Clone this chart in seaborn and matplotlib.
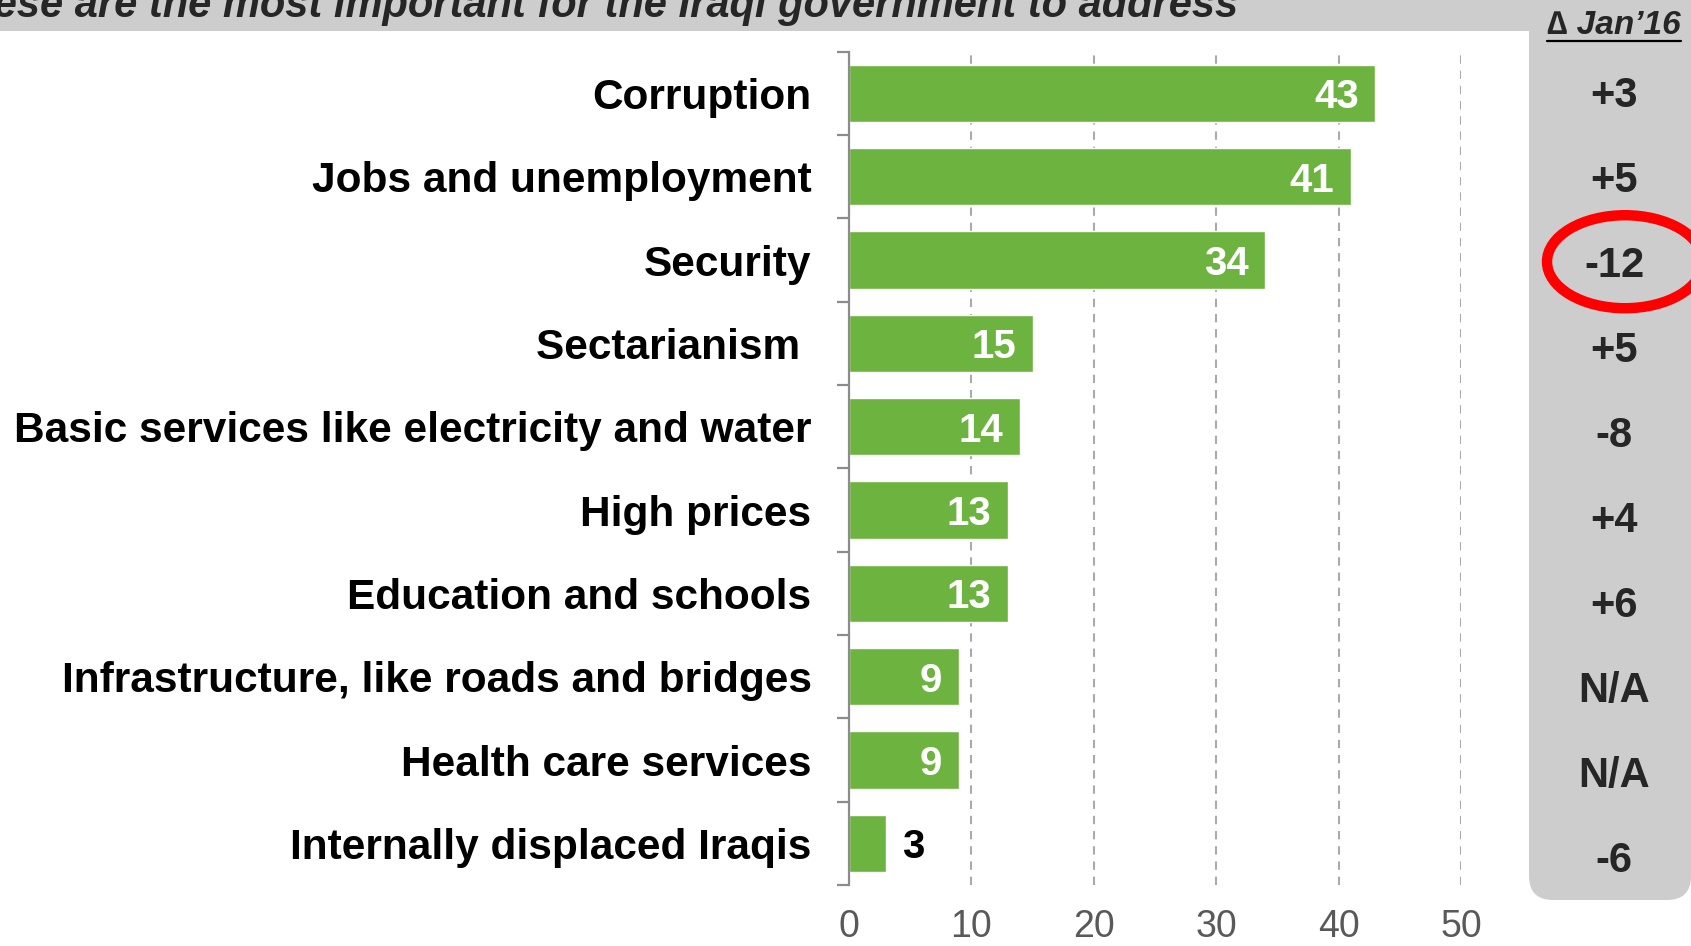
import numpy as np
import pandas as pd
import matplotlib
matplotlib.use("Agg")
import matplotlib.pyplot as plt
from matplotlib import font_manager
from matplotlib.patches import FancyBboxPatch, Ellipse, Rectangle
import seaborn as sns

# data
issues = ["Corruption", "Jobs and unemployment", "Security", "Sectarianism ",
          "Basic services like electricity and water", "High prices",
          "Education and schools", "Infrastructure, like roads and bridges",
          "Health care services", "Internally displaced Iraqis"]
pct = [43, 41, 34, 15, 14, 13, 13, 9, 9, 3]
change = ["+3", "+5", "-12", "+5", "-8", "+4", "+6", "N/A", "N/A", "-6"]
x_ticks = [0, 10, 20, 30, 40, 50]

title = "These are the most important for the Iraqi government to address"
change_header = "\u2206 Jan\u201916"
circled = "-12"

GREEN = "#6db33f"
GRAY_BG = "#cdcdcd"

sns.set_style("white")
installed = {f.name for f in font_manager.fontManager.ttflist}
narrow = "Liberation Sans Narrow" if "Liberation Sans Narrow" in installed else "Liberation Sans"
title_size = 35 if narrow == "Liberation Sans Narrow" else 30
plt.rcParams["font.family"] = ["Liberation Sans", "DejaVu Sans"]

W, H = 1691, 946
fig = plt.figure(figsize=(W / 100, H / 100), dpi=100)

# background layer, pixel coordinates
bg = fig.add_axes([0, 0, 1, 1], zorder=0)
bg.set_xlim(0, W)
bg.set_ylim(H, 0)
bg.axis("off")
bg.add_patch(Rectangle((0, -10), 1560, 41, color=GRAY_BG, lw=0))
bg.add_patch(FancyBboxPatch((1529, -60), W - 1529, 960,
                            boxstyle="round,pad=0,rounding_size=24",
                            fc=GRAY_BG, ec="none"))
bg.text(1238, 17, title, ha="right", va="baseline", fontsize=title_size,
        fontweight="bold", style="italic", family=[narrow, "DejaVu Sans"])
hdr = bg.text(1614, 25, change_header, ha="center", va="center", fontsize=24,
              fontweight="bold", style="italic")

# main bar chart
df = pd.DataFrame({"issue": issues, "pct": pct})
ax = fig.add_axes([849 / W, 1 - 885 / H, (1461 - 849) / W, (885 - 51.7) / H], zorder=1)
ax.patch.set_alpha(0)
sns.barplot(data=df, x="pct", y="issue", orient="h", color=GREEN,
            saturation=1, width=0.69, ax=ax)
ax.set_xlim(0, 50)
ax.set_xticks(x_ticks)
ax.set_xlabel("")
ax.set_ylabel("")
for s in ["top", "right", "bottom"]:
    ax.spines[s].set_visible(False)
ax.spines["left"].set_color("#8c8c8c")
ax.spines["left"].set_linewidth(1.6)

ax.set_yticks(np.arange(-0.5, len(issues)), minor=True)
ax.tick_params(axis="y", which="major", left=True, length=0, pad=27,
               labelsize=30.5, labelcolor="black")
ax.tick_params(axis="y", which="minor", left=True, length=8.7, width=1.6,
               color="#8c8c8c", direction="out")
ax.tick_params(axis="x", bottom=False, length=0, pad=17.5, labelsize=27, labelcolor="#595959")
for lbl in ax.get_yticklabels():
    lbl.set_fontweight("bold")
    lbl.set_verticalalignment("center_baseline")

ax.set_axisbelow(True)
ax.grid(axis="x", linestyle=(0, (4, 3.3)), color="#aaaaaa", linewidth=1.5)
ax.grid(axis="y", visible=False)

for bar, v in zip(ax.patches, pct):
    yc = bar.get_y() + bar.get_height() / 2
    if v >= 5:
        ax.annotate(str(v), (v, yc), xytext=(-12, 0), textcoords="offset points",
                    ha="right", va="center_baseline", color="white",
                    fontsize=29, fontweight="bold")
    else:
        ax.annotate(str(v), (v, yc), xytext=(12, 0), textcoords="offset points",
                    ha="left", va="center_baseline", color="black",
                    fontsize=29, fontweight="bold")

# change column
axp = fig.add_axes([1529 / W, 1 - 900 / H, (W - 1529) / W, 900 / H], zorder=2)
axp.axis("off")
axp.set_xlim(0, 1)
axp.set_ylim(9.509, -1.079)
for i, c in enumerate(change):
    axp.text(0.525, i, c, ha="center", va="center_baseline", fontsize=30, fontweight="bold")

# red ring around the circled change (pixel layer)
i_c = change.index(circled)
y_c = axp.transData.transform((0, i_c))[1]
y_c = bg.transData.inverted().transform((0, y_c))[1]
bg.add_patch(Ellipse((1625, y_c), 156, 93, fill=False, edgecolor="red", lw=7.5))

# underline the header
fig.canvas.draw()
bb = hdr.get_window_extent().transformed(bg.transData.inverted())
bg.plot([bb.x0, bb.x1], [bb.y0 + 1, bb.y0 + 1], color="black", lw=1.6)

fig.savefig("out.png", dpi=100)
